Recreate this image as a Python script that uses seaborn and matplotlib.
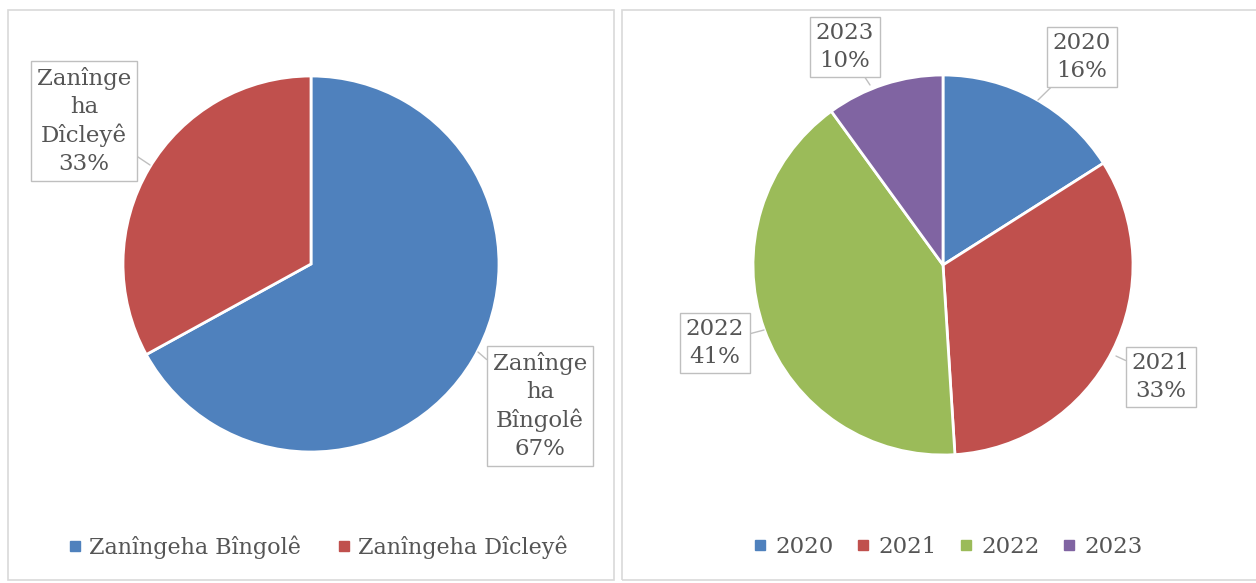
import matplotlib
matplotlib.use("Agg")
import matplotlib.pyplot as plt
from matplotlib.patches import Rectangle
from matplotlib.lines import Line2D
import seaborn as sns

# ---- data ----
left_labels = ["Zanîngeha Bîngolê", "Zanîngeha Dîcleyê"]
left_callouts = ["Zanînge\nha\nBîngolê", "Zanînge\nha\nDîcleyê"]
left_values = [67, 33]
right_labels = ["2020", "2021", "2022", "2023"]
right_values = [16, 33, 41, 10]

left_colors = ["#4F81BD", "#C0504D"]
right_colors = ["#4F81BD", "#C0504D", "#9BBB59", "#8064A2"]

sns.set_theme(style="white")
plt.rcParams["font.family"] = ["DejaVu Serif"]

W, H = 1256, 583
fig = plt.figure(figsize=(W / 100, H / 100), dpi=100)
ax = fig.add_axes([0, 0, 1, 1])

def Y(y):
    return H - y

txt_color = "#555555"
fs = 16.5

# left pie
ax.pie(left_values, colors=left_colors, startangle=90, counterclock=False,
       center=(311, Y(264)), radius=188, frame=True,
       wedgeprops=dict(edgecolor="white", linewidth=2))
# right pie
ax.pie(right_values, colors=right_colors, startangle=90, counterclock=False,
       center=(943, Y(265)), radius=190, frame=True,
       wedgeprops=dict(edgecolor="white", linewidth=2))
ax.set_xlim(0, W)
ax.set_ylim(0, H)
ax.set_aspect("equal")
ax.axis("off")

# panel borders
for (x0, x1) in [(8, 614), (622, 1262)]:
    ax.add_patch(Rectangle((x0, Y(580)), x1 - x0, 570, fill=False,
                           edgecolor="#d9d9d9", linewidth=1.2))

box = dict(boxstyle="square,pad=0.25", facecolor="white", edgecolor="#bfbfbf", linewidth=1)
arrow = dict(arrowstyle="-", color="#bfbfbf", linewidth=1, shrinkA=0, shrinkB=0)

# left callouts
ax.annotate(f"{left_callouts[1]}\n{left_values[1]}%", xy=(150, Y(165)), xytext=(84, Y(121)),
            ha="center", va="center", fontsize=fs, color=txt_color, linespacing=1.35,
            bbox=box, arrowprops=arrow)
ax.annotate(f"{left_callouts[0]}\n{left_values[0]}%", xy=(478, Y(352)), xytext=(540, Y(406)),
            ha="center", va="center", fontsize=fs, color=txt_color, linespacing=1.35,
            bbox=box, arrowprops=arrow)

# right callouts
r_pos = [(1082, Y(57)), (1161, Y(377)), (715, Y(343)), (845, Y(47))]
r_tip = [(1038, Y(100)), (1116, Y(356)), (764, Y(330)), (870, Y(85))]
for lab, v, p, t in zip(right_labels, right_values, r_pos, r_tip):
    ax.annotate(f"{lab}\n{v}%", xy=t, xytext=p, ha="center", va="center",
                fontsize=fs, color=txt_color, linespacing=1.3, bbox=box, arrowprops=arrow)

# legends
def handles(colors, labels):
    return [Line2D([0], [0], marker="s", linestyle="", markersize=7,
                   markerfacecolor=c, markeredgecolor=c, label=l)
            for c, l in zip(colors, labels)]

fig.legend(handles=handles(left_colors, left_labels), loc="center",
           bbox_to_anchor=(318 / W, 1 - 547 / H), ncol=2, frameon=False,
           fontsize=16, handletextpad=0.35, columnspacing=1.6,
           labelcolor=txt_color, handlelength=0.6)
fig.legend(handles=handles(right_colors, right_labels), loc="center",
           bbox_to_anchor=(948 / W, 1 - 547 / H), ncol=4, frameon=False,
           fontsize=16.5, handletextpad=0.35, columnspacing=1.0,
           labelcolor=txt_color, handlelength=0.6)

fig.savefig("out.png", dpi=100, facecolor="white")
